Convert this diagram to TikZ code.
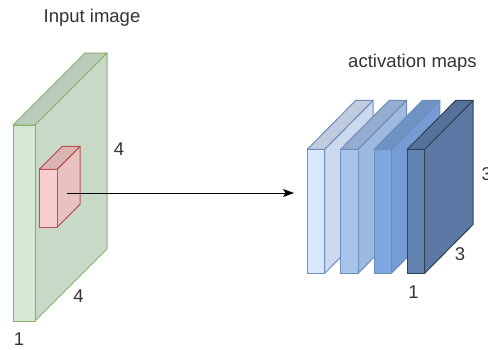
\documentclass[tikz,border=0pt]{standalone}
\usepackage{fontspec}
\setmainfont{Liberation Sans}
\usetikzlibrary{arrows.meta}
\definecolor{gfill}{HTML}{D5E8D4}
\definecolor{gline}{HTML}{82B366}
\definecolor{rfill}{HTML}{F8CECC}
\definecolor{rline}{HTML}{B85450}
\definecolor{bfillA}{HTML}{DAE8FC}
\definecolor{bfillB}{HTML}{A9C4EB}
\definecolor{bfillC}{HTML}{7EA6E0}
\definecolor{bfillD}{HTML}{6181AF}
\definecolor{bline}{HTML}{6C8EBF}
\definecolor{blineD}{HTML}{314354}
\definecolor{txt}{HTML}{333333}
% \cubeshape{x}{y}{w}{h}{dx}{dy}{fill}{line}
\newcommand{\cubeshape}[8]{%
  \draw[line width=1pt,draw=#8,fill=#7!94!black,line join=round]
    (#1+#3,#2) -- ++(#5,-#6) -- ++(0,#4) -- ++(-#5,#6) -- cycle;
  \draw[line width=1pt,draw=#8,fill=#7!88!black,line join=round]
    (#1,#2) -- ++(#5,-#6) -- ++(#3,0) -- ++(-#5,#6) -- cycle;
  \draw[line width=1pt,draw=#8,fill=#7,line join=round]
    (#1,#2) rectangle ++(#3,#4);
}
\tikzset{lab/.style={text=txt,font=\fontsize{18.5}{22}\selectfont,inner sep=0pt,anchor=base}}
\begin{document}
\begin{tikzpicture}[x=1pt,y=-1pt]
\useasboundingbox (0,0) rectangle (488,349);
% input volume
\cubeshape{13}{125}{22}{196}{72}{72}{gfill}{gline}
% filter
\cubeshape{39.3}{169.3}{17.7}{58}{23}{23}{rfill}{rline}
\coordinate (src) at (67,193);
% activation maps
\cubeshape{307.3}{149.3}{17.4}{124}{48.5}{49}{bfillA}{bline}
\cubeshape{340.7}{149.3}{17.4}{124}{48.5}{49}{bfillB}{bline}
\cubeshape{374}{149.3}{17.4}{124}{48.5}{49}{bfillC}{bline}
\cubeshape{407.3}{149.3}{17.4}{124}{48.5}{49}{bfillD}{blineD}
\coordinate (dst) at (294,193);
\draw[line width=1pt,-{Stealth[length=11pt,width=8pt,inset=2.5pt]}] (src) -- (dst);
% labels
\node[lab] (t1) at (92,22) {Input image};
\node[lab] (t2) at (119,155) {4};
\node[lab] (t3) at (78.5,302) {4};
\node[lab] (t4) at (19,345) {1};
\node[lab] (t5) at (412.5,67) {activation maps};
\node[lab,anchor=base west] (t6) at (481.5,180) {3};
\node[lab] (t7) at (460,260) {3};
\node[lab] (t8) at (413.5,298) {1};
\end{tikzpicture}
\end{document}
